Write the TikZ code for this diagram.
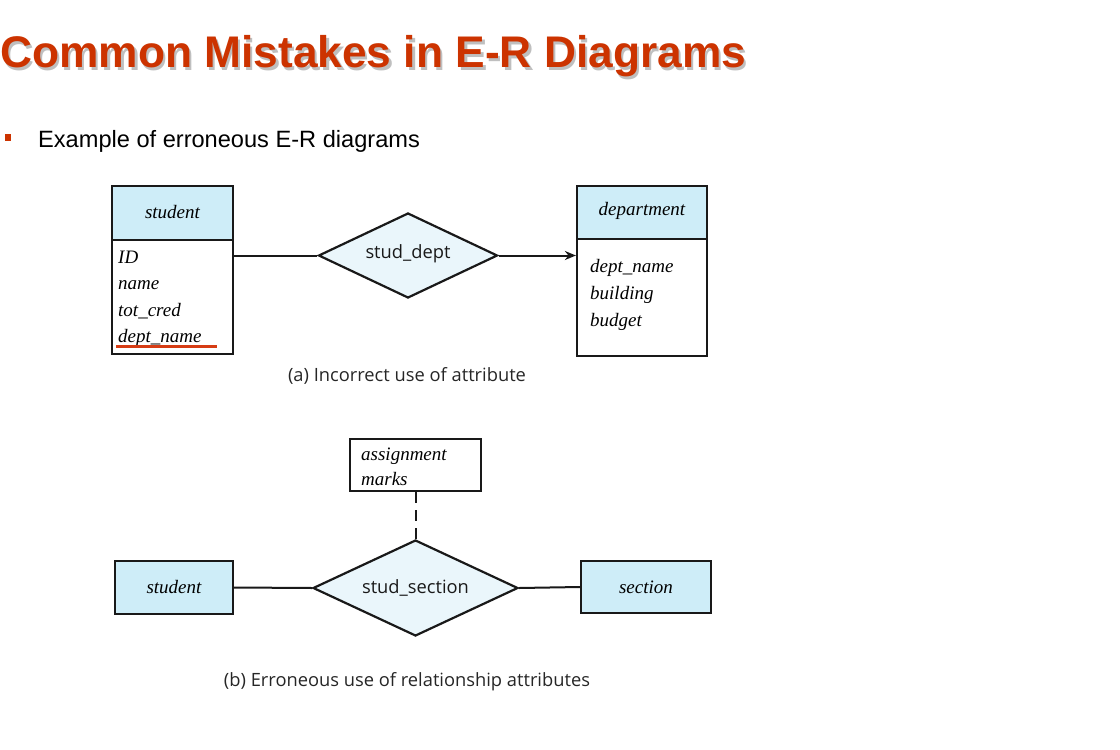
\documentclass[tikz,border=0pt]{standalone}
\usepackage{fontspec}
\setmainfont{Liberation Serif}
\newfontfamily\arialf{Liberation Sans}
\newfontfamily\capf{Open Sans}
\usetikzlibrary{shapes.geometric,arrows.meta}
\definecolor{titlered}{RGB}{204,51,0}
\definecolor{hdrblue}{RGB}{206,237,248}
\definecolor{dmblue}{RGB}{234,246,251}
\definecolor{ulred}{RGB}{214,60,20}
\begin{document}
\begin{tikzpicture}[x=1pt,y=-1pt,
  ent/.style={draw=black!90,line width=2.2pt,inner sep=0pt},
  hdr/.style={ent,fill=hdrblue},
  attrtxt/.style={anchor=base west,inner sep=0pt,font=\fontsize{19}{19}\selectfont\itshape},
  enttxt/.style={anchor=base,inner sep=0pt,font=\fontsize{19}{19}\selectfont\itshape},
  rel/.style={diamond,draw=black!90,line width=2.2pt,fill=dmblue,inner sep=0pt},
  reltxt/.style={anchor=base,inner sep=0pt,font=\capf\fontsize{18.3}{18.3}\selectfont,text=black!90},
  link/.style={draw=black!90,line width=2pt},
  captxt/.style={anchor=base,inner sep=0pt,font=\capf\fontsize{18.3}{18.3}\selectfont,text=black!85}
]
\useasboundingbox (0,0) rectangle (1120,750);
% title
\node[anchor=base west,inner sep=0pt,text=black!25,font=\arialf\bfseries\fontsize{44.3}{44.3}\selectfont] (titlesh) at (2.5,70) {Common Mistakes in E-R Diagrams};
\node[anchor=base west,inner sep=0pt,text=titlered,font=\arialf\bfseries\fontsize{44.3}{44.3}\selectfont] (title) at (0,67.5) {Common Mistakes in E-R Diagrams};
% bullet
\node[fill=titlered,minimum width=6pt,minimum height=7pt,inner sep=0pt] (bul) at (8,137.5) {};
\node[anchor=base west,inner sep=0pt,font=\arialf\fontsize{23.6}{23.6}\selectfont] (sub) at (38,147) {Example of erroneous E-R diagrams};

% (a) student
\node[hdr,minimum width=121pt,minimum height=54pt] (sh) at (172.5,213) {};
\node[ent,minimum width=121pt,minimum height=114pt] (sb) at (172.5,297) {};
\node[enttxt] (sht) at (172.5,218) {student};
\node[attrtxt] (a1) at (118,263) {ID};
\node[attrtxt] (a2) at (118,289) {name};
\node[attrtxt] (a3) at (118,316) {tot\_cred};
\node[attrtxt] (a4) at (118,342) {dept\_name};
\draw[ulred,line width=2.2pt] (116,346.5) -- (217,346.5);

% relationship stud_dept
\node[rel,minimum width=179pt,minimum height=85pt] (d1) at (408,255.5) {};
\node[reltxt] (d1t) at (408,258) {stud\_dept};

% department
\node[hdr,minimum width=130pt,minimum height=53pt] (dh) at (642,212.5) {};
\node[ent,minimum width=130pt,minimum height=117pt] (db) at (642,297.5) {};
\node[enttxt] (dht) at (642,215) {department};
\node[attrtxt] (b1) at (590,272) {dept\_name};
\node[attrtxt] (b2) at (590,299) {building};
\node[attrtxt] (b3) at (590,326) {budget};

\draw[link] (sb.east |- d1.west) -- (d1.west);
\draw[link,-{Stealth[length=11pt,width=9pt]}] (d1.east) -- (db.west |- d1.east);

\node[captxt] (capa) at (407,381) {(a) Incorrect use of attribute};

% (b)
\node[ent,minimum width=131pt,minimum height=52pt] (ra) at (415.5,465) {};
\node[attrtxt] (r1) at (361,460) {assignment};
\node[attrtxt] (r2) at (361,485) {marks};

\node[rel,minimum width=205pt,minimum height=96pt] (d2) at (415.5,588) {};
\node[reltxt] (d2t) at (415.5,593) {stud\_section};

\node[hdr,minimum width=118pt,minimum height=53pt] (st2) at (174,587.5) {};
\node[enttxt] (st2t) at (174,593) {student};
\node[hdr,minimum width=130pt,minimum height=52pt] (sec) at (646,587) {};
\node[enttxt] (sect) at (646,593) {section};

\draw[link,dash pattern=on 11pt off 7pt] (ra.south) -- (d2.north);
\draw[link] (st2.east) -- (d2.west);
\draw[link] (d2.east) -- (sec.west);

\node[captxt] (capb) at (407,686) {(b) Erroneous use of relationship attributes};
\end{tikzpicture}
\end{document}
